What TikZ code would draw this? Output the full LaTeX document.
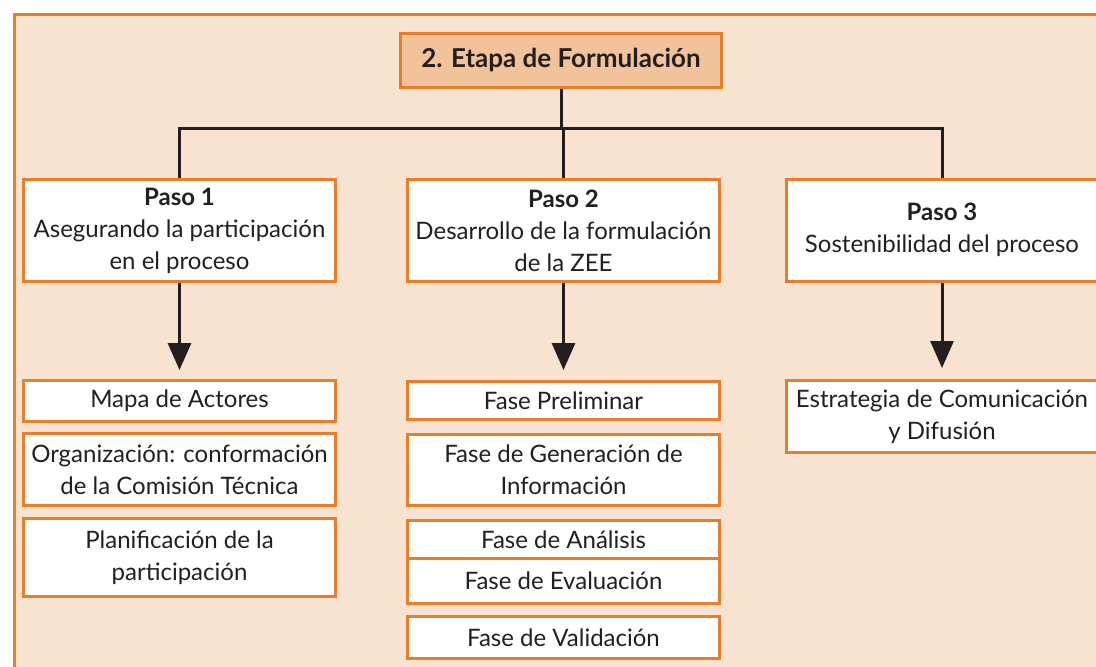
\documentclass[tikz,border=0pt]{standalone}
\usepackage{fontspec}
\setmainfont{Lato}
\usetikzlibrary{arrows.meta,positioning}
\definecolor{peach}{HTML}{F8E3D1}
\definecolor{tan}{HTML}{F2C29A}
\definecolor{rim}{HTML}{E87D2B}
\definecolor{ink}{HTML}{231F20}

\begin{document}
\begin{tikzpicture}[x=1pt, y=-1pt,
  font=\fontsize{24}{32}\selectfont, text=ink,
  box/.style={rectangle, draw=rim, line width=3pt, fill=white, align=center, minimum width=312pt, inner sep=0pt},
  head/.style={box, fill=tan, font=\fontsize{26}{32}\selectfont\bfseries, minimum width=321pt, minimum height=54pt},
  link/.style={ink, line width=3pt},
  down/.style={link, -{Triangle[length=27pt, width=23pt]}}
  ]
  \fill[white] (0,0) rectangle (1096,667);
  \clip (0,0) rectangle (1096,667);
  \draw[rim, fill=peach, line width=3pt] (14.5,14.5) rectangle (1120,700);

  \node[head] (T) at (561,60.5) {2. Etapa de Formulación};

  \node[box, minimum height=102pt] (P1) at (179.5,230.5) {\textbf{Paso 1}\\Asegurando la participación\\en el proceso};
  \node[box, minimum height=102pt] (P2) at (563.5,230.5) {\textbf{Paso 2}\\Desarrollo de la formulación\\de la ZEE};
  \node[box, minimum height=102pt] (P3) at (942,230) {\textbf{Paso 3}\\Sostenibilidad del proceso};

  \node[box, minimum height=41pt] (A) at (179.5,401) {Mapa de Actores};
  \node[box, minimum height=72pt, below=9pt of A] (B) {Organización: conformación\\de la Comisión Técnica};
  \node[box, minimum height=78pt, below=10pt of B] (C) {Planificación de la\\participación};

  \node[box, minimum height=38pt] (D) at (563.5,400.5) {Fase Preliminar};
  \node[box, minimum height=71pt, below=12pt of D] (E) {Fase de Generación de\\Información};
  \node[box, minimum height=38pt, below=12pt of E] (F) {Fase de Análisis};
  \node[box, minimum height=45pt, below=-3pt of F] (G) {Fase de Evaluación};
  \node[box, minimum height=42pt, below=10pt of G] (H) {Fase de Validación};

  \node[box, minimum height=72pt] (I) at (942,416.5) {Estrategia de Comunicación\\y Difusión};

  \coordinate (bar) at (561,128);
  \draw[link] (T) -- (T |- bar);
  \draw[link] (P1) -- (P1 |- bar) -- (P3 |- bar) -- (P3);
  \draw[link] (P2) -- (P2 |- bar);

  \draw[down] (P1) -- ([yshift=9pt]A.north);
  \draw[down] (P2) -- ([yshift=10pt]D.north);
  \draw[down] (P3) -- ([yshift=11pt]I.north);
\end{tikzpicture}
\end{document}
